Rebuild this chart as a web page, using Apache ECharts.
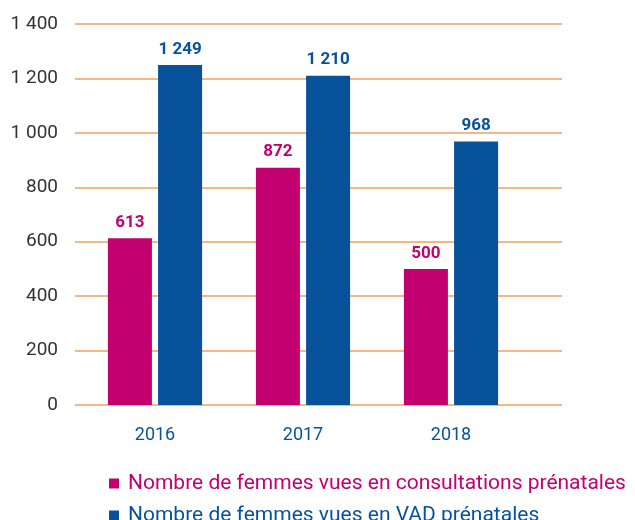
<!DOCTYPE html>
<html>
<head>
<meta charset="utf-8">
<script src="https://cdn.jsdelivr.net/npm/echarts@6/dist/echarts.min.js"></script>
<style>
  html, body { margin: 0; padding: 0; background: #fff; }
  #chart { width: 635px; height: 520px; }
</style>
</head>
<body>
<div id="chart"></div>
<script>
var years = ['2016', '2017', '2018'];
var consultations = [613, 872, 500];
var vad = [1249, 1210, 968];
var yTicks = [0, 200, 400, 600, 800, 1000, 1200, 1400];
var names = [
    'Nombre de femmes vues en consultations prénatales',
    'Nombre de femmes vues en VAD prénatales'
];

var pink = '#c3006f';
var blue = '#08529c';
var font = 'Roboto';

function spaced(v) {
    return String(v).replace(/\B(?=(\d{3})+(?!\d))/g, ' ');
}

var barLabel = function (color) {
    return {
        show: true,
        position: 'top',
        distance: 7,
        color: color,
        fontFamily: font,
        fontWeight: 'bold',
        fontSize: 17,
        formatter: function (p) { return spaced(p.value); }
    };
};

var legendRow = function (name, color, top) {
    return {
        orient: 'vertical',
        left: 104,
        top: top,
        itemWidth: 10,
        itemHeight: 10,
        icon: 'rect',
        textStyle: { fontFamily: font, fontSize: 21, color: color, padding: [0, 0, 0, 4] },
        data: [name]
    };
};

var chart = echarts.init(document.getElementById('chart'));
chart.setOption({
    animation: false,
    grid: [
        { left: 75, right: 73, top: 24, bottom: 115 },   // grid lines
        { left: 81, right: 110, top: 24, bottom: 115 }   // bars
    ],
    legend: [
        legendRow(names[0], pink, 468),
        legendRow(names[1], blue, 500)
    ],
    xAxis: [
        { gridIndex: 0, type: 'category', data: years, show: false },
        {
            gridIndex: 1,
            type: 'category',
            data: years,
            axisLine: { show: false },
            axisTick: { show: false },
            axisLabel: { color: blue, fontFamily: font, fontSize: 18, margin: 21 }
        }
    ],
    yAxis: [
        {
            gridIndex: 0,
            type: 'value',
            min: yTicks[0],
            max: yTicks[yTicks.length - 1],
            interval: 200,
            axisLine: { show: false },
            axisTick: { show: false },
            splitLine: { lineStyle: { color: '#f3a05a', width: 1.5 } },
            axisLabel: {
                color: '#333',
                fontFamily: font,
                fontSize: 19,
                margin: 17,
                formatter: function (v) { return spaced(v); }
            }
        },
        {
            gridIndex: 1,
            type: 'value',
            min: yTicks[0],
            max: yTicks[yTicks.length - 1],
            interval: 200,
            show: false,
            splitLine: { show: false }
        }
    ],
    series: [
        {
            name: names[0],
            type: 'bar',
            xAxisIndex: 1,
            yAxisIndex: 1,
            barWidth: 44,
            barGap: '14%',
            itemStyle: { color: pink },
            label: barLabel(pink),
            data: consultations
        },
        {
            name: names[1],
            type: 'bar',
            xAxisIndex: 1,
            yAxisIndex: 1,
            barWidth: 44,
            barGap: '14%',
            itemStyle: { color: blue },
            label: barLabel(blue),
            data: vad
        }
    ]
});
</script>
</body>
</html>
